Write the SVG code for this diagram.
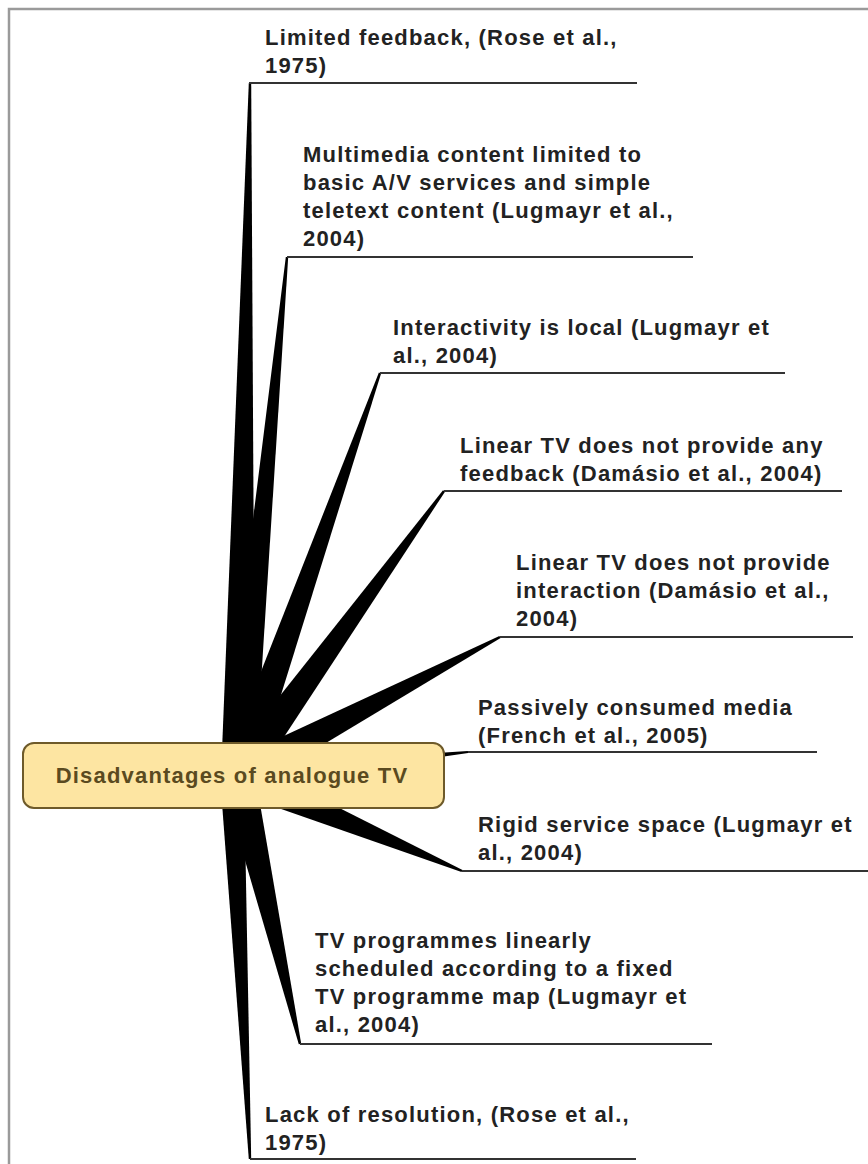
<svg xmlns="http://www.w3.org/2000/svg" width="868" height="1164" viewBox="0 0 868 1164">
<style>
.t{font-family:"Liberation Sans",Arial,sans-serif;font-weight:bold;font-size:22px;letter-spacing:1.2px;fill:#222}
.c{font-family:"Liberation Sans",Arial,sans-serif;font-weight:bold;font-size:22px;letter-spacing:1.2px;fill:#5a4a20}
.u{stroke:#333;stroke-width:2;fill:none}
.w{fill:#000}
.frame{stroke:#9a9a9a;stroke-width:2.5;fill:none}
</style>
<rect x="0" y="0" width="868" height="1164" fill="#fff"/>
<polyline class="frame" points="9,1164 9,9 868,9"/>
<g id="connectors">
<polygon class="w" points="255,776.3 251.2,83 248.8,83 221,775.7"/>
<polygon class="w" points="254.9,777.6 288.2,257.1 285.8,256.9 221.1,774.4"/>
<polygon class="w" points="254,781.6 381.1,373.4 378.9,372.6 222,770.4"/>
<polygon class="w" points="251.8,786 445,491.7 443,490.3 224.2,766"/>
<polygon class="w" points="246,791 500.6,638.1 499.4,635.9 230,761"/>
<polygon class="w" points="239,786 468.1,753.1 467.9,750.9 237,766"/>
<polygon class="w" points="231.4,791.7 461.5,872.1 462.5,869.9 244.6,760.3"/>
<polygon class="w" points="221.4,779.8 298.8,1044.3 301.2,1043.7 254.6,772.2"/>
<polygon class="w" points="220,776.6 248.8,1159 251.2,1159 244,775.4"/>
<line class="u" x1="249" y1="83" x2="637" y2="83"/>
<line class="u" x1="287" y1="257" x2="693" y2="257"/>
<line class="u" x1="380" y1="373" x2="785" y2="373"/>
<line class="u" x1="444" y1="491" x2="842" y2="491"/>
<line class="u" x1="500" y1="637" x2="853" y2="637"/>
<line class="u" x1="468" y1="752" x2="817" y2="752"/>
<line class="u" x1="462" y1="871" x2="868" y2="871"/>
<line class="u" x1="300" y1="1044" x2="712" y2="1044"/>
<line class="u" x1="250" y1="1159" x2="636" y2="1159"/>
</g>
<g id="center">
<rect x="23" y="743" width="421" height="65" rx="11" fill="#fde5a2" stroke="#6e5a2a" stroke-width="2"/>
<text class="c" x="232" y="783" text-anchor="middle">Disadvantages of analogue TV</text>
</g>
<g id="n1"><text class="t" x="265" y="45">Limited feedback, (Rose et al.,</text><text class="t" x="265" y="73">1975)</text></g>
<g id="n2"><text class="t" x="303" y="162">Multimedia content limited to</text><text class="t" x="303" y="190">basic A/V services and simple</text><text class="t" x="303" y="218">teletext content (Lugmayr et al.,</text><text class="t" x="303" y="246">2004)</text></g>
<g id="n3"><text class="t" x="393" y="335">Interactivity is local (Lugmayr et</text><text class="t" x="393" y="363">al., 2004)</text></g>
<g id="n4"><text class="t" x="460" y="453">Linear TV does not provide any</text><text class="t" x="460" y="481">feedback (Damásio et al., 2004)</text></g>
<g id="n5"><text class="t" x="516" y="570">Linear TV does not provide</text><text class="t" x="516" y="598">interaction (Damásio et al.,</text><text class="t" x="516" y="626">2004)</text></g>
<g id="n6"><text class="t" x="478" y="715">Passively consumed media</text><text class="t" x="478" y="743">(French et al., 2005)</text></g>
<g id="n7"><text class="t" x="478" y="832">Rigid service space (Lugmayr et</text><text class="t" x="478" y="860">al., 2004)</text></g>
<g id="n8"><text class="t" x="315" y="948">TV programmes linearly</text><text class="t" x="315" y="976">scheduled according to a fixed</text><text class="t" x="315" y="1004">TV programme map (Lugmayr et</text><text class="t" x="315" y="1032">al., 2004)</text></g>
<g id="n9"><text class="t" x="265" y="1122">Lack of resolution, (Rose et al.,</text><text class="t" x="265" y="1150">1975)</text></g>
</svg>
